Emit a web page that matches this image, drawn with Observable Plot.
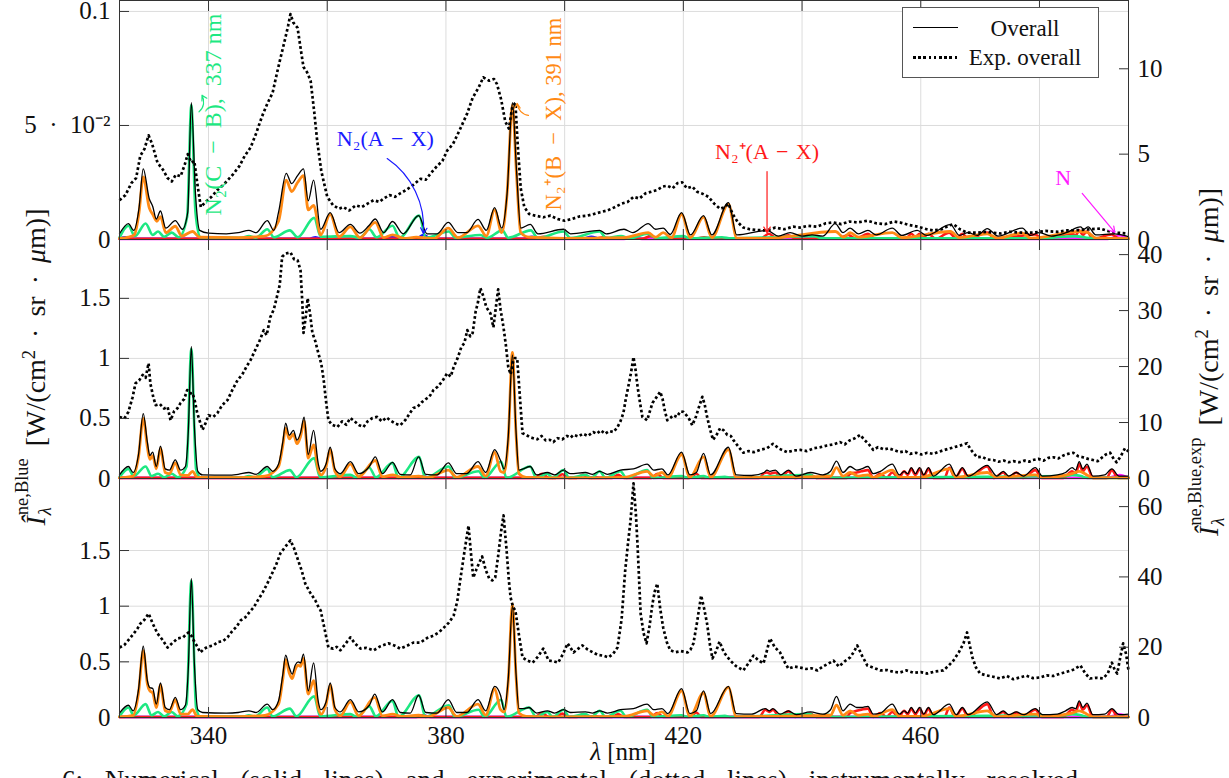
<!DOCTYPE html>
<html><head><meta charset="utf-8">
<script src="https://cdn.jsdelivr.net/npm/d3@7"></script>
<script src="https://cdn.jsdelivr.net/npm/@observablehq/plot@0.6"></script>
<style>
html,body{margin:0;padding:0;background:#fff;overflow:hidden;}
#root{position:relative;width:1229px;height:778px;overflow:hidden;font-family:"Liberation Serif",serif;color:#111;}
.panel{position:absolute;left:0;}
.panel svg{overflow:visible;}
.ylab{position:absolute;width:480px;height:30px;line-height:30px;text-align:center;font-size:28px;word-spacing:5px;white-space:nowrap;transform:rotate(-90deg);}
.ss{display:inline-block;vertical-align:-0.32em;font-size:0.66em;line-height:1.25;text-align:left;margin-left:1px;word-spacing:0;}
.xlab{position:absolute;left:523px;width:200px;top:739px;text-align:center;font-size:25px;line-height:1;}
.caption{position:absolute;left:62px;top:767px;font-size:27px;line-height:1;white-space:nowrap;word-spacing:15px;}
.legend{position:absolute;left:902px;top:7px;width:195px;height:69px;border:1px solid #555;background:#fff;}
.lg-line{position:absolute;left:10px;width:45px;}
.lg-text{position:absolute;left:62px;width:120px;text-align:center;font-size:23px;line-height:1;}
</style>
</head><body>
<div id="root"></div>
<script>
// ---------- axes / ticks ----------
const X_DOMAIN = [325, 495];
const X_TICKS = [340, 360, 380, 400, 420, 440, 460, 480];
const X_LABELED = [340, 380, 420, 460];

const P1_LEFT_MAX = 0.1048, P1_RIGHT_MAX = 14;
const P2_LEFT_MAX = 1.99,   P2_RIGHT_MAX = 42.7;
const P3_LEFT_MAX = 2.147,  P3_RIGHT_MAX = 68;
const P1_LEFT_TICKS = [0, 0.05, 0.1];
const P1_LEFT_LABELS = ["0", "5\u2002·\u200210⁻²", "0.1"];
const P23_LEFT_TICKS = [0, 0.5, 1, 1.5];
const P23_LEFT_LABELS = ["0", "0.5", "1", "1.5"];
const P1_RIGHT_TICKS = [0, 5, 10];
const P2_RIGHT_TICKS = [0, 10, 20, 30, 40];
const P3_RIGHT_TICKS = [0, 20, 40, 60];

const COLORS = {cb: "#1de882", bx: "#ff8a14", ax: "#ff1a1a", a: "#1a1aff", n: "#ff1aff"};

// ---------- panel 1 ----------
const P1_OVERALL = [[325,0.0025],[326.5,0.007],[327.4,0.004],[328.3,0.014],[329.0,0.031],[330.0,0.018],[330.6,0.0145],[331.2,0.009],[331.9,0.0125],[332.8,0.005],[334.4,0.0083],[335.6,0.0045],[336.5,0.012],[337.1,0.060],[337.8,0.02],[338.5,0.004],[340,0.0028],[343,0.0025],[345,0.003],[346.8,0.004],[348,0.003],[349.9,0.0083],[351,0.004],[351.8,0.012],[353.1,0.029],[354.0,0.0245],[355.0,0.028],[356.0,0.031],[356.8,0.017],[357.7,0.026],[358.9,0.0045],[360.5,0.0118],[362,0.003],[363.9,0.0066],[365.5,0.0028],[367,0.006],[368.1,0.009],[369.5,0.003],[371.0,0.0079],[372.8,0.0025],[375.4,0.0105],[376.8,0.0025],[378.5,0.0025],[380.4,0.0075],[382,0.003],[383.5,0.003],[385.4,0.0088],[386.8,0.004],[388.2,0.014],[389.4,0.005],[390.3,0.02],[391.2,0.060],[391.9,0.03],[392.6,0.005],[394.2,0.0066],[395.5,0.0025],[399.8,0.0045],[401,0.0025],[405.9,0.004],[407,0.0025],[410,0.0045],[411.5,0.003],[414.1,0.007],[415.3,0.0045],[416.6,0.005],[417.8,0.0022],[419.7,0.0118],[421.2,0.002],[423.4,0.0105],[424.8,0.002],[427.6,0.0162],[429,0.002],[434.1,0.004],[436,0.0015],[438,0.003],[440,0.0015],[441.7,0.002],[443.5,0.0015],[445.6,0.007],[446.9,0.003],[448.1,0.005],[449.5,0.0025],[451.1,0.004],[452.5,0.002],[455.2,0.005],[456.8,0.0018],[459.4,0.004],[461,0.0018],[465,0.0065],[466.5,0.0018],[468,0.003],[469.5,0.0018],[471.2,0.0048],[473,0.0015],[477.1,0.005],[478.5,0.0018],[480,0.003],[482,0.0015],[484.5,0.003],[486.9,0.0055],[487.5,0.0045],[488.2,0.0055],[489.5,0.002],[492.6,0.0025],[495,0.0013]];
const P1_BX = [[325,0.0005],[326.5,0.001],[327.5,0.002],[328.3,0.012],[329.0,0.0275],[330.0,0.014],[330.6,0.011],[331.3,0.008],[331.9,0.01],[332.8,0.003],[334.4,0.0058],[335.5,0.0015],[337.3,0.0035],[338.5,0.001],[345,0.0008],[349.5,0.0015],[351.8,0.008],[353.1,0.026],[354.0,0.021],[355.0,0.025],[356.0,0.028],[356.8,0.013],[357.7,0.015],[358.9,0.002],[360.5,0.011],[362,0.0012],[363.9,0.0055],[365.5,0.0008],[368.1,0.0075],[369.5,0.0008],[371,0.002],[373,0.0005],[375,0.001],[378,0.0005],[380.4,0.005],[382,0.0008],[385.4,0.006],[386.8,0.0015],[388.2,0.013],[389.4,0.003],[390.3,0.02],[391.2,0.059],[391.9,0.028],[392.6,0.003],[394,0.001],[400,0.0005],[410,0.0008],[414.1,0.003],[415.3,0.001],[416.6,0.003],[418,0.0008],[419.7,0.011],[421.2,0.0008],[423.4,0.0098],[424.8,0.0008],[427.6,0.0155],[429,0.0006],[434,0.0005],[445.6,0.0035],[447,0.001],[448.1,0.003],[449.5,0.001],[455.2,0.003],[456.8,0.0008],[465,0.0035],[466.5,0.0008],[471.2,0.0025],[473,0.0006],[477.1,0.0028],[478.5,0.0006],[486.9,0.0035],[488.2,0.003],[489.5,0.0006],[495,0.0004]];
const P1_CB = [[325,0.0008],[326.5,0.006],[327.6,0.0015],[329.4,0.007],[330.6,0.002],[331.5,0.0035],[332.5,0.0012],[333.8,0.003],[335,0.001],[336.4,0.01],[337.1,0.059],[337.8,0.012],[338.6,0.001],[345.5,0.0008],[346.8,0.0015],[348,0.0008],[349.9,0.0045],[351,0.001],[353.7,0.004],[355,0.001],[357.8,0.0095],[358.9,0.0012],[363.9,0.0015],[365.5,0.0008],[367.1,0.0045],[368.3,0.001],[371.0,0.006],[372.2,0.0008],[375.5,0.0105],[376.6,0.0008],[380.5,0.0035],[381.6,0.0008],[385.8,0.002],[387,0.0008],[389.5,0.004],[390.5,0.0008],[394.3,0.004],[395.5,0.0006],[399.8,0.0035],[401,0.0006],[405.9,0.0035],[407,0.0006],[409.5,0.0015],[411,0.0006],[414,0.0025],[415.5,0.0006],[420,0.0015],[421,0.0005],[426.5,0.001],[428,0.0005],[442,0.0015],[443.5,0.0005],[480,0.0005],[484,0.0012],[486,0.0015],[488,0.0008],[495,0.0003]];
const P1_AX = [[325,0.0003],[395,0.0003],[396.5,0.0012],[398,0.0003],[405,0.0003],[406.5,0.001],[408,0.0003],[413,0.0003],[414.5,0.0015],[416,0.0003],[422,0.0003],[423.5,0.001],[425,0.0003],[433,0.0003],[434.4,0.0025],[435.8,0.0003],[437.7,0.0018],[439,0.0003],[446,0.0003],[447.8,0.002],[449,0.0003],[451.1,0.0025],[452.3,0.0003],[457.5,0.0003],[458.4,0.0025],[459.1,0.0012],[459.8,0.0025],[460.5,0.0012],[461.3,0.0025],[462.5,0.0003],[464.8,0.003],[466,0.0003],[467,0.0025],[468,0.0003],[471.2,0.003],[472.5,0.0003],[479.3,0.0022],[480.5,0.0003],[485.5,0.0025],[486.1,0.0018],[486.7,0.004],[487.3,0.002],[488,0.0035],[489,0.0003],[492.2,0.0022],[493.4,0.0003],[495,0.0003]];
const P1_A = [[325,0.0004],[326,0.001],[327,0.0004],[357,0.0004],[358,0.001],[359,0.0004],[369.5,0.0004],[371,0.0012],[372,0.0004],[375,0.0004],[376.2,0.002],[377.5,0.0004],[393,0.0004],[394.5,0.0012],[396,0.0004],[403,0.0004],[404.5,0.0012],[406,0.0004],[495,0.0004]];
const P1_N = [[325,0.0002],[410,0.0002],[411.5,0.001],[413,0.0002],[491.5,0.0002],[493.5,0.0018],[495,0.0003]];
const P1_EXP = [[325,2.3],[326,2.6],[327,3.3],[327.8,3.6],[328.5,4.9],[329.2,5.3],[329.9,6.1],[330.5,5.6],[331.4,4.5],[332.3,4.1],[333.1,3.6],[333.8,3.4],[334.5,3.8],[335.3,3.7],[336,4.4],[336.5,5.0],[337.1,4.5],[337.6,4.6],[338.1,3.3],[338.7,1.9],[339.5,2.2],[340.5,2.5],[341.5,2.9],[342.5,3.2],[343.3,3.5],[344.2,3.85],[345.2,4.3],[346.1,4.9],[347.1,5.4],[348,6.2],[349,7.2],[349.9,7.95],[350.8,8.6],[351.5,9.7],[352.1,10.6],[352.8,11.6],[353.4,12.5],[353.8,13.2],[354.3,12.7],[355,12.4],[355.6,11.0],[356,10.1],[356.6,9.8],[357.2,9.3],[357.8,7.5],[358.3,5.8],[359,4.0],[360,2.5],[361,2.0],[362,1.8],[362.7,1.9],[363.7,1.7],[364.8,2.0],[365.8,1.9],[366.8,2.1],[367.8,2.3],[368.8,2.2],[369.5,2.4],[370.5,2.6],[371.4,2.5],[372.3,2.7],[373.3,2.9],[374.5,3.2],[375.7,3.55],[376.6,3.5],[377.5,3.9],[378.5,4.3],[379.4,4.6],[380.2,5.2],[381.2,5.6],[382.3,6.4],[383.6,7.4],[384.5,8.3],[385.5,8.9],[386.3,9.5],[387.3,9.3],[388.1,9.4],[388.6,9.1],[389.3,8.2],[390.0,6.9],[390.6,6.5],[391.2,7.8],[391.7,8.0],[392.1,5.5],[392.6,3.0],[393.2,1.9],[394,1.5],[395,1.4],[396.4,1.3],[397.6,1.4],[398.8,1.2],[400,1.1],[401.2,1.2],[402.5,1.35],[403.8,1.4],[405,1.5],[406,1.6],[407.2,1.7],[408.5,1.9],[409.6,2.1],[410.6,2.2],[411.6,2.5],[412.6,2.4],[413.6,2.7],[414.6,2.8],[415.6,2.9],[416.5,3.1],[417.3,3.15],[418.2,3.0],[419,3.3],[419.8,3.35],[420.6,3.0],[421.5,3.1],[422.3,2.8],[423.1,2.7],[424.2,2.5],[425.2,2.1],[426.2,1.8],[427,1.9],[427.6,2.1],[428.3,1.5],[429.2,1.0],[430.1,0.7],[431.2,0.6],[432.5,0.55],[434.1,0.53],[435.5,0.7],[437,0.6],[438.5,0.75],[439.7,0.7],[441,0.8],[442.5,0.75],[444,0.95],[445.3,1.0],[446.6,0.9],[448,1.05],[449.4,1.0],[451,1.1],[452.5,0.95],[454,0.9],[455.5,1.05],[456.5,1.0],[458,0.85],[459.5,0.75],[461,0.6],[462.1,0.53],[463.5,0.6],[464.6,0.8],[465.5,0.9],[466.6,0.6],[467.8,0.4],[469.5,0.4],[471,0.45],[473.4,0.35],[475,0.45],[477,0.4],[478.9,0.4],[481,0.5],[483,0.45],[484.7,0.53],[486.5,0.55],[488.5,0.6],[490.2,0.64],[491.5,0.5],[493,0.4],[495,0.35]];

// ---------- panel 2 ----------
const P2_OVERALL = [[325,0.03],[326.5,0.1],[327.3,0.05],[328.2,0.2],[329.0,0.54],[329.7,0.3],[330.1,0.19],[330.6,0.22],[331.2,0.1],[331.9,0.27],[332.7,0.08],[333.4,0.07],[334.4,0.155],[335.3,0.07],[336.1,0.1],[336.6,0.4],[337.1,1.1],[337.6,0.45],[338.2,0.06],[339,0.03],[343,0.028],[345,0.035],[346.8,0.05],[348,0.035],[349.9,0.1],[350.8,0.06],[351.8,0.12],[352.5,0.3],[353.0,0.46],[353.6,0.36],[354.3,0.4],[354.9,0.32],[355.5,0.38],[356.1,0.51],[356.8,0.2],[357.7,0.40],[358.5,0.12],[358.9,0.06],[359.8,0.12],[360.5,0.26],[361.3,0.08],[362.2,0.04],[363.9,0.14],[365.3,0.04],[367.1,0.1],[368.1,0.18],[369.3,0.04],[371.0,0.135],[372.3,0.035],[374,0.03],[375.4,0.18],[376.6,0.035],[378.5,0.03],[380.4,0.13],[381.8,0.04],[383.5,0.04],[385.4,0.14],[386.7,0.05],[388.2,0.24],[389.2,0.15],[389.8,0.08],[390.5,0.35],[391.2,1.03],[391.8,0.4],[392.3,0.07],[393,0.08],[394.2,0.1],[395.3,0.03],[397.1,0.05],[398.3,0.03],[399.8,0.07],[401,0.04],[403.5,0.05],[404.7,0.035],[405.9,0.06],[407.2,0.035],[409.4,0.07],[411.6,0.08],[413.9,0.12],[415.0,0.07],[416.4,0.08],[417.4,0.03],[419.7,0.22],[421.1,0.03],[422.2,0.05],[423.4,0.21],[424.6,0.03],[427.6,0.26],[428.9,0.03],[431.5,0.025],[433.6,0.05],[434.1,0.07],[434.6,0.06],[435.5,0.07],[436.4,0.03],[437.7,0.07],[439,0.02],[441.4,0.05],[443.5,0.03],[444.8,0.06],[445.8,0.145],[446.9,0.05],[448.1,0.1],[449.2,0.07],[450,0.08],[451.1,0.1],[452,0.04],[453.2,0.06],[455.2,0.12],[456.4,0.03],[457.2,0.06],[457.8,0.04],[458.4,0.09],[459.1,0.04],[459.8,0.09],[460.5,0.03],[461.3,0.09],[462.1,0.02],[464.8,0.12],[466,0.02],[467.0,0.09],[468,0.02],[471.2,0.11],[472.8,0.02],[473.9,0.06],[474.8,0.02],[476.1,0.05],[477.3,0.02],[479.3,0.09],[480.5,0.02],[483,0.03],[484.4,0.05],[485.5,0.09],[486.1,0.07],[486.7,0.14],[487.3,0.08],[488.0,0.12],[489,0.02],[491,0.03],[492.2,0.08],[493.4,0.02],[495,0.02]];
const P2_BX = [[325,0.005],[327.3,0.02],[328.2,0.18],[329.0,0.5],[329.7,0.26],[330.1,0.16],[330.6,0.19],[331.2,0.08],[331.9,0.25],[332.7,0.05],[333.4,0.04],[334.4,0.13],[335.3,0.03],[336.5,0.025],[337.3,0.06],[338.1,0.01],[345,0.008],[349.5,0.02],[351.8,0.1],[352.5,0.27],[353.0,0.42],[353.6,0.33],[354.3,0.37],[354.9,0.29],[355.5,0.35],[356.1,0.48],[356.8,0.17],[357.7,0.28],[358.5,0.07],[359,0.03],[359.8,0.1],[360.5,0.24],[361.3,0.06],[362.2,0.015],[363.9,0.12],[365.3,0.015],[368.1,0.15],[369.3,0.015],[371,0.03],[372.5,0.01],[375.4,0.02],[377,0.008],[380.4,0.07],[381.8,0.01],[385.4,0.1],[386.7,0.02],[388.2,0.22],[389.2,0.06],[389.8,0.05],[390.5,0.33],[391.2,1.05],[391.8,0.38],[392.3,0.04],[393.5,0.01],[400,0.005],[410,0.01],[413.9,0.06],[415,0.02],[416.4,0.05],[417.4,0.01],[419.7,0.2],[421.1,0.01],[423.4,0.18],[424.6,0.01],[427.6,0.24],[428.9,0.008],[434,0.01],[444.8,0.02],[445.8,0.09],[446.9,0.02],[448.1,0.05],[449.5,0.02],[451.1,0.03],[452,0.01],[455.2,0.07],[456.4,0.01],[460,0.01],[464.8,0.08],[466,0.01],[471.2,0.05],[472.8,0.008],[479.3,0.03],[480.5,0.008],[485.5,0.04],[486.7,0.06],[488,0.03],[489,0.006],[495,0.005]];
const P2_CB = [[325,0.01],[326.5,0.08],[327.4,0.02],[329.4,0.1],[330.4,0.02],[331.5,0.04],[332.5,0.01],[333.8,0.04],[334.8,0.01],[336.3,0.1],[337.1,1.08],[337.9,0.08],[338.6,0.01],[345.8,0.008],[346.8,0.02],[347.8,0.008],[349.9,0.08],[350.8,0.01],[353.7,0.07],[354.8,0.01],[357.8,0.17],[358.8,0.01],[363.9,0.03],[365,0.005],[367.1,0.09],[368.2,0.01],[371.0,0.13],[372,0.005],[375.5,0.18],[376.5,0.005],[380.5,0.1],[381.5,0.005],[385.5,0.06],[386.5,0.005],[389.3,0.14],[390.2,0.005],[394.2,0.1],[395.2,0.005],[397.1,0.04],[398,0.005],[399.8,0.07],[400.8,0.005],[403.5,0.03],[404.5,0.005],[405.9,0.06],[406.9,0.005],[409.4,0.06],[410.4,0.005],[413.9,0.07],[414.9,0.005],[419.7,0.02],[420.7,0.005],[423.4,0.02],[424.4,0.005],[427,0.015],[428,0.005],[441.4,0.03],[442.4,0.005],[444.4,0.025],[445.4,0.005],[484.4,0.02],[485.5,0.03],[487,0.02],[488,0.005],[495,0.005]];
const P2_AX = [[325,0.005],[395,0.005],[396.2,0.04],[397.3,0.005],[398.5,0.005],[399.6,0.035],[400.6,0.005],[402,0.005],[403.1,0.03],[404.1,0.005],[408,0.005],[409,0.03],[410,0.005],[414.6,0.005],[415.6,0.04],[416.6,0.005],[421,0.005],[422.2,0.04],[423,0.005],[432.8,0.005],[433.6,0.045],[434.1,0.05],[434.6,0.04],[435.5,0.05],[436.4,0.005],[437.7,0.06],[438.8,0.005],[441.4,0.03],[442.4,0.005],[447.5,0.005],[448.1,0.04],[449.2,0.05],[450,0.06],[451.1,0.07],[452,0.005],[453.2,0.04],[454.2,0.005],[455.2,0.05],[456.3,0.005],[457.2,0.06],[457.8,0.03],[458.4,0.08],[459.1,0.03],[459.8,0.08],[460.5,0.02],[461.3,0.08],[462.1,0.005],[464,0.005],[464.8,0.09],[465.8,0.005],[467,0.08],[468,0.005],[471.2,0.1],[472.3,0.005],[473.9,0.05],[474.8,0.005],[476.1,0.05],[477.2,0.005],[479.3,0.07],[480.4,0.005],[484,0.005],[485.5,0.06],[486.1,0.04],[486.7,0.12],[487.3,0.06],[488,0.1],[489,0.005],[491.3,0.005],[492.2,0.07],[493.2,0.005],[495,0.005]];
const P2_A = [[325,0.005],[375,0.005],[376.2,0.02],[377.4,0.005],[404,0.005],[405,0.015],[406,0.005],[495,0.005]];
const P2_N = [[325,0.004],[491.5,0.004],[493.5,0.03],[495,0.004]];
const P2_EXP = [[325,11.0],[325.8,10.7],[326.5,11.9],[327.2,14.5],[327.7,17.0],[328.3,17.5],[328.9,18.5],[329.4,18.0],[329.9,20.6],[330.2,17.0],[330.7,14.5],[331.1,13.1],[331.8,13.3],[332.5,12.5],[333.1,12.8],[333.6,10.4],[334.2,12.0],[334.8,12.6],[335.3,13.5],[335.9,14.2],[336.4,15.8],[337,15.2],[337.3,15.3],[337.7,13.8],[338.1,11.7],[338.6,10.0],[339,8.7],[339.5,9.9],[340,11.3],[340.8,11.0],[341.5,11.7],[342.3,13.1],[343.2,14.0],[344,15.8],[344.9,17.6],[345.7,18.6],[346.4,20.0],[347.1,21.2],[347.8,22.8],[348.6,24.6],[349.3,26.5],[349.8,25.6],[350.4,28.8],[351,30.2],[351.6,32.8],[352,34.6],[352.4,39.6],[353,40.2],[353.8,40.4],[354.4,39.2],[355,39],[355.5,37.2],[355.8,31.5],[356,26],[356.4,29],[356.7,32.2],[357.1,29.5],[357.5,26],[358,24.5],[358.5,22.4],[359,20.5],[359.4,17.6],[359.8,13.8],[360.2,10.4],[360.8,9.6],[361.7,9.2],[362.5,10.2],[363.2,9.6],[363.9,10.8],[364.6,10.2],[365.4,9.5],[366.1,9.2],[366.8,10.2],[367.6,10.8],[368.4,11],[369.2,10.2],[370,10.9],[370.6,10.4],[371.5,9.8],[372.3,9.5],[373.2,10.5],[374,11.8],[374.5,12.6],[375.2,12.8],[375.9,13.6],[376.6,14.2],[377.2,14.6],[377.9,15.8],[378.6,16.4],[379.4,17.4],[380.2,18.8],[380.8,18.2],[381.3,19.9],[382,21.6],[382.6,23.5],[383.1,24.2],[383.6,26.5],[384.1,25.4],[384.5,26],[385,29.8],[385.4,31.5],[385.8,34],[386.3,32.6],[386.8,30.6],[387.5,29.5],[388,27],[388.4,30.5],[388.8,33.8],[389.2,30.2],[389.7,27],[390.1,23.8],[390.5,19.9],[390.9,18.6],[391.3,20.8],[391.6,21.5],[392,21.5],[392.4,15.5],[392.9,8.1],[393.5,7.8],[394.1,7.4],[394.7,7.2],[395.4,7.0],[396.1,7.6],[396.8,6.8],[397.5,6.9],[398.1,6.5],[398.8,7.2],[399.6,7.0],[400.4,7.6],[401,7.3],[401.5,7.8],[402.3,7.5],[403.1,8.0],[403.9,7.6],[404.8,8.3],[405.4,8.0],[406.1,8.6],[406.8,8.0],[407.5,8.5],[408.2,8.3],[408.8,9.0],[409.4,10.2],[409.9,11.7],[410.3,14.2],[410.7,16.3],[411.2,19.0],[411.6,21.7],[411.9,19.8],[412.3,16.3],[412.7,13.5],[413.1,11],[413.5,10.7],[413.9,10.4],[414.3,11.8],[414.8,13.5],[415.4,14.4],[416.1,15.5],[416.5,14.2],[416.9,12.0],[417.3,10.4],[417.8,10.8],[418.3,11.3],[418.9,11.0],[419.5,12.0],[420,11.9],[420.6,11.2],[421,10.6],[421.5,9.5],[422.1,11.0],[422.7,13.0],[423.2,14.6],[423.6,13.2],[424,11],[424.5,8.8],[425,6.9],[425.6,7.8],[426.2,9.0],[426.8,8.6],[427.4,7.8],[428,7.6],[428.4,6.9],[429.2,5.8],[430.1,4.6],[431,4.9],[431.9,4.7],[432.9,5.1],[434.1,5.4],[435.1,6.2],[436.2,5.3],[437.5,4.7],[438.6,5.0],[439.7,5.1],[440.8,4.9],[442,5.4],[443.1,5.6],[444.2,5.9],[445.3,6.1],[446.4,6.5],[447.2,6.1],[448,6.8],[448.9,7.2],[449.8,7.8],[450.5,6.9],[451.2,6.2],[452,5.1],[452.8,5.6],[453.8,5.2],[454.6,5.4],[455.4,5.1],[456.5,4.7],[457.4,4.9],[458.2,4.4],[459.2,4.6],[460.1,4.3],[461.1,4.6],[462.1,4.4],[463.1,4.8],[464,5.1],[465,5.4],[466,5.7],[467,6.0],[467.8,6.3],[468.4,5.2],[469,4.4],[469.5,3.8],[470.3,3.9],[471.2,3.4],[472.2,3.3],[473.1,3.0],[474,3.2],[474.8,2.9],[475.6,3.1],[476.6,2.9],[477.5,3.2],[478.3,3.0],[478.9,3.3],[479.8,3.5],[480.7,3.2],[481.5,3.7],[482.3,3.8],[483.2,3.6],[484,4.1],[484.8,4.4],[485.7,4.6],[486.5,4.0],[487.3,3.8],[488.2,3.5],[489,3.3],[489.8,3.1],[490.6,3.8],[491.2,4.3],[491.9,4.6],[492.5,3.5],[493,2.9],[493.7,4.0],[494.4,5.4],[495,4.8]];

// ---------- panel 3 ----------
const P3_OVERALL = [[325,0.04],[326.5,0.11],[327.3,0.06],[328.2,0.25],[329.0,0.64],[329.7,0.33],[330.1,0.27],[330.6,0.26],[331.2,0.12],[331.9,0.31],[332.7,0.09],[333.4,0.07],[334.4,0.18],[335.3,0.07],[336.1,0.11],[336.6,0.45],[337.1,1.25],[337.6,0.5],[338.2,0.07],[339,0.045],[343,0.04],[345,0.045],[346.8,0.06],[348,0.045],[349.9,0.12],[350.8,0.07],[351.8,0.15],[352.5,0.38],[353.0,0.56],[353.6,0.45],[354.1,0.39],[354.6,0.47],[355.1,0.5],[355.5,0.49],[356.0,0.57],[356.8,0.24],[357.7,0.49],[358.5,0.14],[358.9,0.07],[359.8,0.14],[360.5,0.31],[361.3,0.09],[362.2,0.05],[363.9,0.16],[365.3,0.05],[367.1,0.11],[368.0,0.21],[369.3,0.05],[371.0,0.16],[372.3,0.045],[374,0.04],[375.4,0.2],[376.6,0.045],[378.5,0.04],[380.4,0.16],[381.8,0.045],[383.5,0.045],[385.4,0.16],[386.7,0.06],[388.2,0.28],[389.2,0.2],[389.8,0.07],[390.5,0.35],[391.2,1.0],[391.8,0.4],[392.3,0.08],[393,0.08],[394.0,0.09],[395.3,0.04],[397.1,0.06],[398.3,0.04],[399.8,0.07],[401,0.045],[403.5,0.05],[404.7,0.04],[405.9,0.06],[407.2,0.04],[409.4,0.07],[411.6,0.08],[413.9,0.12],[415.0,0.07],[416.4,0.08],[417.4,0.035],[419.7,0.26],[421.1,0.035],[422.2,0.06],[423.4,0.24],[424.6,0.035],[427.6,0.28],[428.9,0.035],[431.5,0.03],[433.8,0.08],[434.5,0.06],[435.1,0.08],[436.3,0.03],[437.7,0.06],[439,0.025],[441.4,0.05],[443.5,0.03],[444.8,0.07],[445.8,0.19],[446.9,0.06],[448.1,0.12],[449.2,0.09],[450,0.09],[451.1,0.1],[452,0.03],[453.2,0.04],[455.2,0.12],[456.4,0.03],[457.2,0.06],[457.8,0.04],[458.4,0.09],[459.1,0.04],[459.8,0.09],[460.5,0.03],[461.3,0.09],[462.1,0.025],[464.8,0.12],[466,0.025],[467.0,0.09],[468,0.025],[471.2,0.14],[472.8,0.025],[473.9,0.06],[474.8,0.025],[476.1,0.05],[477.3,0.025],[479.3,0.08],[480.5,0.025],[483,0.03],[484.4,0.06],[485.5,0.09],[486.1,0.08],[486.7,0.15],[487.3,0.09],[488.0,0.13],[489,0.025],[491,0.03],[492.2,0.08],[493.4,0.025],[495,0.03]];
const P3_BX = [[325,0.005],[327.3,0.02],[328.2,0.22],[329.0,0.6],[329.7,0.3],[330.1,0.24],[330.6,0.22],[331.2,0.09],[331.9,0.29],[332.7,0.06],[333.4,0.05],[334.4,0.16],[335.3,0.03],[336.5,0.03],[337.3,0.07],[338.1,0.01],[345,0.008],[349.5,0.02],[351.8,0.12],[352.5,0.34],[353.0,0.52],[353.6,0.4],[354.1,0.35],[354.6,0.43],[355.1,0.47],[355.5,0.46],[356.0,0.53],[356.8,0.21],[357.7,0.33],[358.5,0.08],[359,0.03],[359.8,0.12],[360.5,0.29],[361.3,0.07],[362.2,0.015],[363.9,0.14],[365.3,0.015],[368.0,0.18],[369.3,0.015],[371,0.03],[372.5,0.01],[375.4,0.02],[377,0.008],[380.4,0.09],[381.8,0.01],[385.4,0.12],[386.7,0.02],[388.2,0.26],[389.2,0.07],[389.8,0.05],[390.5,0.33],[391.2,1.02],[391.8,0.38],[392.3,0.04],[393.5,0.01],[400,0.005],[410,0.01],[413.9,0.06],[415,0.02],[416.4,0.05],[417.4,0.01],[419.7,0.24],[421.1,0.01],[423.4,0.22],[424.6,0.01],[427.6,0.27],[428.9,0.008],[434,0.01],[444.8,0.02],[445.8,0.11],[446.9,0.02],[448.1,0.06],[449.5,0.02],[451.1,0.03],[452,0.01],[455.2,0.07],[456.4,0.01],[460,0.01],[464.8,0.08],[466,0.01],[471.2,0.06],[472.8,0.008],[479.3,0.03],[480.5,0.008],[485.5,0.04],[486.7,0.06],[488,0.03],[489,0.006],[495,0.005]];
const P3_CB = [[325,0.01],[326.5,0.09],[327.4,0.02],[329.4,0.12],[330.4,0.02],[331.5,0.05],[332.5,0.01],[333.8,0.05],[334.8,0.01],[336.3,0.12],[337.1,1.23],[337.9,0.09],[338.6,0.01],[345.8,0.008],[346.8,0.02],[347.8,0.008],[349.9,0.09],[350.8,0.01],[353.7,0.08],[354.8,0.01],[357.8,0.19],[358.8,0.01],[363.9,0.03],[365,0.005],[367.1,0.1],[368.2,0.01],[371.0,0.15],[372,0.005],[375.5,0.2],[376.5,0.005],[380.5,0.11],[381.5,0.005],[385.5,0.07],[386.5,0.005],[389.3,0.16],[390.2,0.005],[394.0,0.09],[395.2,0.005],[397.1,0.05],[398,0.005],[399.8,0.07],[400.8,0.005],[403.5,0.03],[404.5,0.005],[405.9,0.06],[406.9,0.005],[409.4,0.06],[410.4,0.005],[413.9,0.07],[414.9,0.005],[419.7,0.02],[420.7,0.005],[423.4,0.02],[424.4,0.005],[427,0.015],[428,0.005],[441.4,0.03],[442.4,0.005],[444.4,0.025],[445.4,0.005],[484.4,0.02],[485.5,0.03],[487,0.02],[488,0.005],[495,0.005]];
const P3_AX = [[325,0.005],[395,0.005],[396.2,0.04],[397.3,0.005],[398.5,0.005],[399.6,0.035],[400.6,0.005],[402,0.005],[403.1,0.03],[404.1,0.005],[408,0.005],[409,0.03],[410,0.005],[414.6,0.005],[415.6,0.04],[416.6,0.005],[421,0.005],[422.2,0.045],[423,0.005],[432.8,0.005],[433.8,0.07],[434.5,0.05],[435.1,0.07],[436.2,0.005],[437.7,0.055],[438.8,0.005],[441.4,0.035],[442.4,0.005],[447.5,0.005],[448.1,0.04],[449.2,0.06],[450,0.07],[451.1,0.08],[452,0.005],[453.2,0.04],[454.2,0.005],[455.2,0.05],[456.3,0.005],[457.2,0.06],[457.8,0.03],[458.4,0.08],[459.1,0.03],[459.8,0.08],[460.5,0.02],[461.3,0.08],[462.1,0.005],[464,0.005],[464.8,0.09],[465.8,0.005],[467,0.08],[468,0.005],[471.2,0.12],[472.3,0.005],[473.9,0.05],[474.8,0.005],[476.1,0.045],[477.2,0.005],[479.3,0.07],[480.4,0.005],[484,0.005],[485.5,0.07],[486.1,0.05],[486.7,0.13],[487.3,0.07],[488,0.11],[489,0.005],[491.3,0.005],[492.2,0.07],[493.2,0.005],[495,0.005]];
const P3_A = [[325,0.005],[375,0.005],[376.2,0.02],[377.4,0.005],[404,0.005],[405,0.015],[406,0.005],[495,0.005]];
const P3_N = [[325,0.004],[491.5,0.004],[493.5,0.03],[495,0.004]];
const P3_EXP = [[325,19.9],[325.8,20.6],[326.6,22.2],[327.4,23.9],[328,25.2],[328.5,26.7],[329.2,27.8],[329.9,29.6],[330.6,26.7],[331.4,23.9],[332.2,22.2],[333.1,19.9],[333.9,21.2],[334.8,22.5],[335.7,22.8],[336.6,24.2],[337.1,23.3],[337.5,21.9],[338.1,20.2],[338.6,18.5],[339.3,19.6],[340,20.2],[340.8,20.5],[341.6,21.5],[342.4,21.7],[343.2,22.8],[344,24.6],[344.7,25.8],[345.4,27.6],[346.2,28.5],[347,30.2],[347.6,31.3],[348.4,33.6],[349.1,35.5],[349.9,38.1],[350.6,40.6],[351.4,43.5],[352.1,46.7],[352.9,48.5],[353.8,50.4],[354.4,48.2],[355.1,44.7],[355.7,41.8],[356.3,38.1],[357.1,35.6],[358,33.3],[358.5,31.5],[358.9,30.4],[359.5,25.6],[360.2,19.9],[361,19.6],[361.6,20.1],[362.2,19.1],[363,20.8],[363.9,22.8],[364.7,21.0],[365.6,19.6],[366.6,19.8],[367.8,19.1],[369,20.3],[370.3,21.1],[371.3,20.5],[372.3,19.6],[373.4,20.4],[374.5,21.3],[375.7,21.3],[376.8,22.6],[377.9,23.3],[378.8,24.2],[379.6,25.5],[380.5,27.0],[381.3,29.0],[381.9,33],[382.4,39],[383.1,47],[383.8,54.6],[384.2,47],[384.6,39.8],[385.1,42],[385.6,44],[386.1,45.8],[386.7,42],[387.3,39.5],[387.8,39.0],[388.3,39.8],[388.8,46],[389.3,53],[389.7,57.5],[390.2,48],[390.6,39],[390.9,34.1],[391.3,31.5],[391.7,30.4],[392.3,23.5],[392.9,17.1],[393.7,16.2],[394.6,15.6],[395.5,17.3],[396.4,19.6],[397.3,16.2],[398.1,16.0],[398.9,15.6],[399.7,18.0],[400.5,21.1],[401.5,18.5],[402.3,19.6],[403,20.5],[403.9,19.3],[404.8,18.5],[405.6,17.8],[406.5,17.6],[407.4,17.1],[408.2,18.2],[408.9,19.9],[409.6,28],[410.2,41.8],[410.7,50],[411.1,56],[411.6,66.6],[412,58],[412.3,48.4],[412.8,29.6],[413.3,24],[413.8,21.1],[414.3,26],[414.8,32.4],[415.2,36],[415.6,38.1],[416.1,31],[416.6,25.6],[417.2,21.5],[417.8,19.1],[418.7,18.6],[419.6,18.9],[420.7,18.5],[421.2,19.3],[421.7,21.1],[422.3,27],[423,34.7],[423.5,31],[424,26.7],[424.5,20.5],[424.9,16.8],[425.5,18.8],[426.1,21.6],[426.8,18.6],[427.4,17.3],[427.9,16.2],[428.9,14.6],[430.1,13.4],[431,15.5],[431.8,17.6],[432.7,16.2],[433.5,15.4],[434,18.5],[434.6,22.5],[435.4,20.0],[436.3,18.5],[437,16.0],[437.7,13.9],[438.7,14.5],[439.7,14.2],[440.7,13.8],[441.6,14.0],[442.6,13.4],[443.5,14.5],[444.4,15.3],[445.3,16.2],[446.2,14.5],[447.2,16.0],[448.1,17.1],[448.7,18.6],[449.3,20.5],[450.1,17.6],[451,14.8],[452.1,14.1],[453.2,13.4],[454.3,13.5],[455.4,13.0],[456.5,12.8],[457.6,13.4],[458.8,12.7],[460,12.9],[461.1,12.5],[462.4,13.1],[463.8,13.4],[464.6,14.6],[465.5,16.2],[466.4,18.5],[467.2,21.1],[467.8,24.2],[468.2,21],[468.7,17.1],[469.3,14.2],[470,12.5],[471,12.0],[472.2,11.6],[473.4,11.1],[474.5,11.8],[475.6,10.9],[476.7,11.4],[477.8,11.9],[478.9,11.2],[480.1,11.4],[481.2,12.0],[482.3,11.8],[483.5,12.5],[484.6,13.0],[485.7,13.6],[486.9,14.8],[487.7,12.6],[488.5,11.1],[489.6,11.3],[490.7,11.1],[491.5,12.5],[492.2,15.6],[492.7,13.5],[493.1,12.5],[493.6,17],[494.1,21.1],[494.6,18],[495,13.4]];

// ---------- annotations (panel 1, left units) ----------
const ANNOT_LABELS = [
  {text: "N₂(C\u2002−\u2002B),\u2002337 nm", nm: 340.8, value: 0.0105, color: COLORS.cb, rotate: -90, size: 24},
  {text: "N₂⁺(B\u2002−\u2002X), 391 nm", nm: 398.1, value: 0.0127, color: COLORS.bx, rotate: -90, size: 22.5},
  {text: "N₂(A\u2004−\u2004X)", nm: 369.8, value: 0.0443, color: COLORS.a, rotate: 0, size: 22},
  {text: "N₂⁺(A\u2004−\u2004X)", nm: 434.1, value: 0.0382, color: COLORS.ax, rotate: 0, size: 22},
  {text: "N", nm: 484.0, value: 0.0268, color: COLORS.n, rotate: 0, size: 22}
];
const ANNOT_ARROWS = [
  {nm1: 338.4, v1: 0.0560, nm2: 338.9, v2: 0.0632, color: COLORS.cb, bend: -40},
  {nm1: 393.9, v1: 0.0544, nm2: 392.0, v2: 0.0597, color: COLORS.bx, bend: 40},
  {nm1: 370.1, v1: 0.0355, nm2: 376.2, v2: 0.0026, color: COLORS.a, bend: 30},
  {nm1: 434.1, v1: 0.0298, nm2: 434.1, v2: 0.0030, color: COLORS.ax, bend: 0},
  {nm1: 487.2, v1: 0.0202, nm2: 492.7, v2: 0.0031, color: COLORS.n, bend: 0}
];

// ---------- drawing ----------
const X = d => d[0], Y = d => d[1];
function panel(cfg) {
  const k = cfg.leftMax / cfg.rightMax;
  const fmtL = d => { const i = cfg.leftTicks.indexOf(d); return i >= 0 ? cfg.leftLabels[i] : ""; };
  const marks = [
    Plot.gridX({ticks: X_TICKS, stroke: "#dcdcdc", strokeOpacity: 1}),
    Plot.gridY({ticks: cfg.leftTicks.filter(t => t > 0), stroke: "#dcdcdc", strokeOpacity: 1}),
    Plot.line(cfg.a, {x: X, y: Y, stroke: COLORS.a, strokeWidth: 2.4, curve: "monotone-x"}),
    Plot.line(cfg.n, {x: X, y: Y, stroke: COLORS.n, strokeWidth: 2.4, curve: "monotone-x"}),
    Plot.line(cfg.ax, {x: X, y: Y, stroke: COLORS.ax, strokeWidth: 2.6, curve: "monotone-x"}),
    Plot.line(cfg.cb, {x: X, y: Y, stroke: COLORS.cb, strokeWidth: 2.6, curve: "monotone-x"}),
    Plot.line(cfg.bx, {x: X, y: Y, stroke: COLORS.bx, strokeWidth: 2.8, curve: "monotone-x"}),
    Plot.line(cfg.overall, {x: X, y: Y, stroke: "#000", strokeWidth: 1.3, curve: "monotone-x"}),
    Plot.line(cfg.exp, {x: X, y: d => d[1] * k, stroke: "#000", strokeWidth: 2.7, strokeDasharray: "2.7,2.5", strokeLinecap: "butt", curve: "linear"})
  ];
  if (cfg.annotations) {
    for (const a of ANNOT_ARROWS) {
      marks.push(Plot.arrow([a], {x1: "nm1", y1: "v1", x2: "nm2", y2: "v2", stroke: a.color, strokeWidth: 1.2, bend: a.bend, headLength: 8}));
    }
    for (const t of ANNOT_LABELS) {
      marks.push(Plot.text([t], {x: "nm", y: "value", text: "text", fill: t.color, fontSize: t.size, rotate: t.rotate,
        textAnchor: t.rotate ? "start" : "middle", lineAnchor: "middle"}));
    }
  }
  marks.push(
    Plot.frame({stroke: "#333", strokeWidth: 1}),
    Plot.axisY({anchor: "left", ticks: cfg.leftTicks, tickFormat: fmtL, tickSize: -10, label: null, stroke: "#333"}),
    Plot.axisY({anchor: "right", ticks: cfg.rightTicks.map(t => t * k), tickFormat: d => String(Math.round(d / k)), tickSize: -10, label: null, stroke: "#333"}),
    Plot.axisX({anchor: "bottom", ticks: X_TICKS, tickFormat: d => (cfg.showX && X_LABELED.includes(d)) ? String(d) : "", tickSize: -10, label: null, stroke: "#333"}),
    Plot.axisX({anchor: "top", ticks: X_TICKS, tickFormat: () => "", tickSize: -10, label: null, stroke: "#333"})
  );
  return Plot.plot({
    width: 1229, height: 259,
    marginLeft: 119, marginRight: 101, marginTop: 10, marginBottom: 10,
    x: {domain: X_DOMAIN},
    y: {domain: [0, cfg.leftMax]},
    style: {fontFamily: "'Liberation Serif', serif", fontSize: "25px", background: "transparent", overflow: "visible", color: "#111"},
    marks
  });
}

const root = document.getElementById("root");
function place(svg, top) {
  const d = document.createElement("div");
  d.className = "panel"; d.style.top = top + "px";
  d.appendChild(svg); root.appendChild(d);
}
place(panel({overall: P1_OVERALL, bx: P1_BX, cb: P1_CB, ax: P1_AX, a: P1_A, n: P1_N, exp: P1_EXP,
  leftMax: P1_LEFT_MAX, rightMax: P1_RIGHT_MAX, leftTicks: P1_LEFT_TICKS, leftLabels: P1_LEFT_LABELS,
  rightTicks: P1_RIGHT_TICKS, showX: false, annotations: true}), -10);
place(panel({overall: P2_OVERALL, bx: P2_BX, cb: P2_CB, ax: P2_AX, a: P2_A, n: P2_N, exp: P2_EXP,
  leftMax: P2_LEFT_MAX, rightMax: P2_RIGHT_MAX, leftTicks: P23_LEFT_TICKS, leftLabels: P23_LEFT_LABELS,
  rightTicks: P2_RIGHT_TICKS, showX: false}), 229);
place(panel({overall: P3_OVERALL, bx: P3_BX, cb: P3_CB, ax: P3_AX, a: P3_A, n: P3_N, exp: P3_EXP,
  leftMax: P3_LEFT_MAX, rightMax: P3_RIGHT_MAX, leftTicks: P23_LEFT_TICKS, leftLabels: P23_LEFT_LABELS,
  rightTicks: P3_RIGHT_TICKS, showX: true}), 468);

// ---------- text: axis labels, legend, caption ----------
const extra = `
<div class="ylab" style="left:-214px;top:352px;"><i>Î</i><span class="ss">ne,Blue<br><i>λ</i></span> [W/(cm<sup style="font-size:0.66em">2</sup> · sr · <i>μ</i>m)]</div>
<div class="ylab" style="left:959px;top:347px;"><i>Î</i><span class="ss">ne,Blue,exp<br><i>λ</i></span> [W/(cm<sup style="font-size:0.66em">2</sup> · sr · <i>μ</i>m)]</div>
<div class="xlab"><i>λ</i> [nm]</div>
<div class="legend">
  <div class="lg-line" style="top:19px;border-top:1.3px solid #000;"></div>
  <div class="lg-text" style="top:9px;">Overall</div>
  <div class="lg-line" style="top:48px;height:2.7px;background:repeating-linear-gradient(90deg,#000 0 2.7px,transparent 2.7px 5.2px);"></div>
  <div class="lg-text" style="top:38px;">Exp. overall</div>
</div>
<div class="caption">6: Numerical (solid lines) and experimental (dotted lines) instrumentally resolved</div>`;
root.insertAdjacentHTML("beforeend", extra);
</script>
</body></html>
